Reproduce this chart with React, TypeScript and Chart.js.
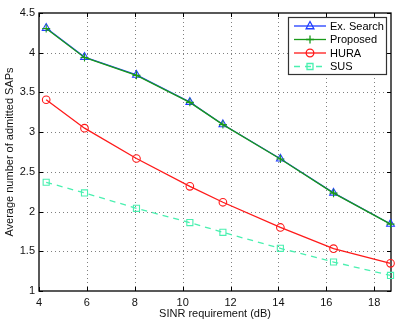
import React, { useEffect, useRef } from 'react';
import { Chart, registerables } from 'chart.js';

Chart.register(...registerables);

const sinrDb = [4.3, 5.9, 8.07, 10.3, 11.68, 14.08, 16.3, 18.68];
const exSearch = [4.31, 3.945, 3.72, 3.378, 3.097, 2.665, 2.235, 1.844];
const proposed = [4.305, 3.94, 3.715, 3.375, 3.095, 2.662, 2.232, 1.842];
const hura = [3.408, 3.05, 2.668, 2.318, 2.117, 1.8, 1.533, 1.348];
const sus = [2.369, 2.235, 2.041, 1.861, 1.739, 1.537, 1.365, 1.196];
const xTicks = [4, 6, 8, 10, 12, 14, 16, 18];
const yTicks = [1, 1.5, 2, 2.5, 3, 3.5, 4, 4.5];
const seriesNames = ['Ex. Search', 'Proposed', 'HURA', 'SUS'];

const BLUE = '#1f3dff';
const GREEN = '#1a9a1a';
const RED = '#ff1a1a';
const AQUA = '#4af0b0';
const FONT = "'Liberation Sans', Arial, Helvetica, sans-serif";

function toPts(ys: number[]) {
  return ys.map((y, i) => ({ x: sinrDb[i], y }));
}

function drawMarker(ctx: CanvasRenderingContext2D, style: string, x: number, y: number, r: number) {
  ctx.beginPath();
  if (style === 'triangle') {
    ctx.moveTo(x, y - r);
    ctx.lineTo(x + r * 0.866, y + r * 0.5 + 0.5);
    ctx.lineTo(x - r * 0.866, y + r * 0.5 + 0.5);
    ctx.closePath();
  } else if (style === 'cross') {
    ctx.moveTo(x - r, y);
    ctx.lineTo(x + r, y);
    ctx.moveTo(x, y - r);
    ctx.lineTo(x, y + r);
  } else if (style === 'circle') {
    ctx.arc(x, y, r, 0, Math.PI * 2);
  } else {
    ctx.rect(x - r, y - r, 2 * r, 2 * r);
  }
  ctx.stroke();
}

const framePlugin = {
  id: 'frameTicks',
  beforeDatasetsDraw(chart: any) {
    const { ctx, chartArea: a, scales } = chart;
    ctx.save();
    // dotted grid
    ctx.strokeStyle = '#808080';
    ctx.lineWidth = 1;
    ctx.setLineDash([1, 3]);
    ctx.beginPath();
    for (const v of xTicks) {
      const px = Math.round(scales.x.getPixelForValue(v)) + 0.5;
      if (px <= a.left + 1 || px >= a.right - 1) continue;
      ctx.moveTo(px, a.bottom);
      ctx.lineTo(px, a.top);
    }
    for (const v of yTicks) {
      const py = Math.round(scales.y.getPixelForValue(v)) + 0.5;
      if (py <= a.top + 1 || py >= a.bottom - 1) continue;
      ctx.moveTo(a.left, py);
      ctx.lineTo(a.right, py);
    }
    ctx.stroke();
    ctx.setLineDash([]);
    // inward ticks
    ctx.strokeStyle = '#000';
    ctx.beginPath();
    for (const v of xTicks) {
      const px = Math.round(scales.x.getPixelForValue(v)) + 0.5;
      ctx.moveTo(px, a.bottom);
      ctx.lineTo(px, a.bottom - 4);
      ctx.moveTo(px, a.top);
      ctx.lineTo(px, a.top + 4);
    }
    for (const v of yTicks) {
      const py = Math.round(scales.y.getPixelForValue(v)) + 0.5;
      ctx.moveTo(a.left, py);
      ctx.lineTo(a.left + 4, py);
      ctx.moveTo(a.right, py);
      ctx.lineTo(a.right - 4, py);
    }
    ctx.stroke();
    ctx.lineWidth = 1.3;
    ctx.strokeRect(a.left, a.top, a.right - a.left, a.bottom - a.top);
    ctx.restore();
  },
};

const legendPlugin = {
  id: 'boxLegend',
  afterDraw(chart: any) {
    const { ctx } = chart;
    const x0 = 288, y0 = 17, w = 98, h = 57;
    ctx.save();
    ctx.fillStyle = '#fff';
    ctx.fillRect(x0, y0, w, h);
    ctx.strokeStyle = '#333';
    ctx.lineWidth = 1.2;
    ctx.strokeRect(x0 + 0.5, y0 + 0.5, w, h);
    const rows = [26, 39.5, 53, 66.5];
    const styles = ['triangle', 'cross', 'circle', 'rect'];
    const radii = [4.5, 4, 3.8, 3];
    const colors = [BLUE, GREEN, RED, AQUA];
    chart.data.datasets.forEach((ds: any, i: number) => {
      const y = rows[i];
      ctx.strokeStyle = colors[i];
      ctx.lineWidth = 1.3;
      ctx.setLineDash(i === 3 ? [6, 5] : []);
      ctx.beginPath();
      ctx.moveTo(294, y);
      ctx.lineTo(326, y);
      ctx.stroke();
      ctx.setLineDash([]);
      drawMarker(ctx, styles[i], 310, y, radii[i]);
      ctx.fillStyle = '#000';
      ctx.font = `11px ${FONT}`;
      ctx.textAlign = 'left';
      ctx.textBaseline = 'middle';
      ctx.fillText(ds.label, 330, y + 0.5);
    });
    ctx.restore();
  },
};

export default function App() {
  const ref = useRef<HTMLCanvasElement>(null);

  useEffect(() => {
    const canvas = ref.current;
    if (!canvas) return;
    Chart.defaults.font.family = FONT;
    Chart.defaults.font.size = 11;
    Chart.defaults.color = '#111';

    const common = {
      fill: false,
      borderWidth: 1.3,
      pointBorderWidth: 1.1,
      pointBackgroundColor: 'rgba(0,0,0,0)',
      tension: 0,
      clip: false as any,
    };

    const chart = new Chart(canvas, {
      type: 'line',
      data: {
        datasets: [
          { ...common, label: seriesNames[0], data: toPts(exSearch), borderColor: BLUE, pointBorderColor: BLUE, pointStyle: 'triangle', pointRadius: 4.5, order: 2 },
          { ...common, label: seriesNames[1], data: toPts(proposed), borderColor: GREEN, pointBorderColor: GREEN, pointStyle: 'cross', pointRadius: 4, order: 1 },
          { ...common, label: seriesNames[2], data: toPts(hura), borderColor: RED, pointBorderColor: RED, pointStyle: 'circle', pointRadius: 3.8, order: 3 },
          { ...common, label: seriesNames[3], data: toPts(sus), borderColor: AQUA, pointBorderColor: AQUA, pointStyle: 'rect', pointRadius: 4.3, borderDash: [6, 5], order: 4 },
        ],
      },
      options: {
        responsive: false,
        animation: false,
        layout: { padding: { left: 0, top: 13, right: 8, bottom: 0 } },
        plugins: { legend: { display: false }, tooltip: { enabled: false } },
        scales: {
          x: {
            type: 'linear',
            min: 4,
            max: 18.7,
            afterBuildTicks: (s: any) => { s.ticks = xTicks.map((v) => ({ value: v })); },
            afterFit: (s: any) => { s.height = 31; },
            ticks: { padding: 5, color: '#111', font: { size: 11 }, callback: (v: any) => String(v) },
            grid: { display: false, drawTicks: false },
            border: { display: false },
            title: { display: true, text: 'SINR requirement (dB)', color: '#111', font: { size: 11 }, padding: { top: 0, bottom: 1.5 } },
          },
          y: {
            type: 'linear',
            min: 1,
            max: 4.5,
            afterBuildTicks: (s: any) => { s.ticks = yTicks.map((v) => ({ value: v })); },
            afterFit: (s: any) => { s.width = 39; },
            ticks: { padding: 4, color: '#111', font: { size: 11 }, callback: (v: any) => String(v) },
            grid: { display: false, drawTicks: false },
            border: { display: false },
            title: { display: true, text: 'Average number of admitted SAPs', color: '#111', font: { size: 11 }, padding: { top: 3.5, bottom: 0 } },
          },
        },
      },
      plugins: [framePlugin, legendPlugin],
    });

    return () => chart.destroy();
  }, []);

  return (
    <div style={{ position: 'absolute', left: 0, top: 0, width: 399, height: 322, background: '#fff' }}>
      <canvas ref={ref} width={399} height={322} style={{ display: 'block', width: 399, height: 322 }} />
    </div>
  );
}
